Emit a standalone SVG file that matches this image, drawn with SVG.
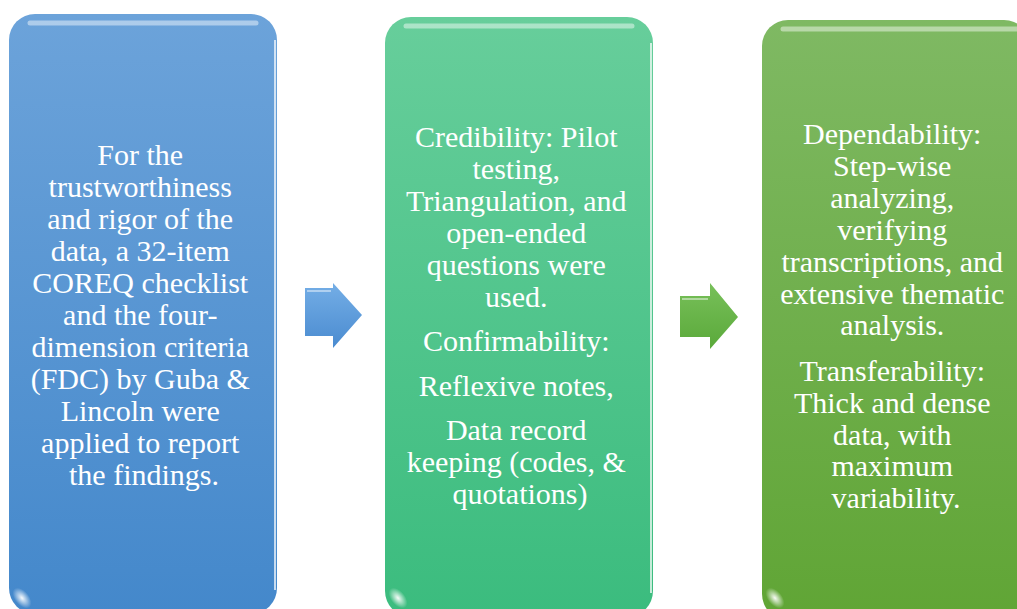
<svg xmlns="http://www.w3.org/2000/svg" width="1017" height="609" viewBox="0 0 1017 609">
  <style>
    .lbl { font-family: "Liberation Serif", "Times New Roman", serif; font-size: 30px; fill: #ffffff; text-anchor: middle; }
    .gloss { fill: none; stroke: #ffffff; stroke-opacity: 0.45; stroke-width: 5; stroke-linecap: round; }
    .edge { fill: none; stroke: #ffffff; stroke-opacity: 0.7; stroke-width: 2; }
  </style>
  <defs>
    <linearGradient id="gBlue" x1="0" y1="0" x2="0" y2="1">
      <stop offset="0" stop-color="#6ca3da"/>
      <stop offset="1" stop-color="#4488cb"/>
    </linearGradient>
    <linearGradient id="gTeal" x1="0" y1="0" x2="0" y2="1">
      <stop offset="0" stop-color="#67ce9b"/>
      <stop offset="1" stop-color="#3bbc7e"/>
    </linearGradient>
    <linearGradient id="gGreen" x1="0" y1="0" x2="0" y2="1">
      <stop offset="0" stop-color="#7fb963"/>
      <stop offset="1" stop-color="#60a535"/>
    </linearGradient>
    <linearGradient id="gArrowBlue" x1="0" y1="0" x2="0" y2="1">
      <stop offset="0" stop-color="#74aee6"/>
      <stop offset="1" stop-color="#4a8bd0"/>
    </linearGradient>
    <linearGradient id="gArrowGreen" x1="0" y1="0" x2="0" y2="1">
      <stop offset="0" stop-color="#78c05a"/>
      <stop offset="1" stop-color="#5aa93a"/>
    </linearGradient>
    <radialGradient id="gCorner" cx="0.5" cy="0.5" r="0.5">
      <stop offset="0" stop-color="#ffffff" stop-opacity="0.95"/>
      <stop offset="1" stop-color="#ffffff" stop-opacity="0"/>
    </radialGradient>
  </defs>

  <!-- Step 1: reporting framework -->
  <g id="box-coreq">
    <rect x="9" y="14" width="268" height="600" rx="26" fill="url(#gBlue)"/>
    <path class="gloss" d="M30 23 H256"/>
    <path class="edge" d="M275 40 V590"/>
    <ellipse cx="22" cy="598" rx="7" ry="12" transform="rotate(-40 22 598)" fill="url(#gCorner)"/>
    <text class="lbl">
      <tspan x="144" y="165">For the</tspan>
      <tspan x="144" y="197">trustworthiness</tspan>
      <tspan x="144" y="229">and rigor of the</tspan>
      <tspan x="144" y="261">data, a 32-item</tspan>
      <tspan x="144" y="293">COREQ checklist</tspan>
      <tspan x="144" y="325">and the four-</tspan>
      <tspan x="144" y="357">dimension criteria</tspan>
      <tspan x="144" y="389">(FDC) by Guba &amp;</tspan>
      <tspan x="144" y="421">Lincoln were</tspan>
      <tspan x="144" y="453">applied to report</tspan>
      <tspan x="144" y="485">the findings.</tspan>
    </text>
  </g>

  <!-- Step 2: credibility and confirmability -->
  <g id="box-credibility">
    <rect x="385" y="17" width="268" height="600" rx="26" fill="url(#gTeal)"/>
    <path class="gloss" d="M406 26 H632"/>
    <path class="edge" d="M651 43 V593"/>
    <ellipse cx="398" cy="598" rx="7" ry="12" transform="rotate(-40 398 598)" fill="url(#gCorner)"/>
    <text class="lbl">
      <tspan x="520" y="147">Credibility: Pilot</tspan>
      <tspan x="520" y="179">testing,</tspan>
      <tspan x="520" y="211">Triangulation, and</tspan>
      <tspan x="520" y="243">open-ended</tspan>
      <tspan x="520" y="275">questions were</tspan>
      <tspan x="520" y="307">used.</tspan>
      <tspan x="520" y="351">Confirmability:</tspan>
      <tspan x="520" y="396">Reflexive notes,</tspan>
      <tspan x="520" y="440">Data record</tspan>
      <tspan x="520" y="472">keeping (codes, &amp;</tspan>
      <tspan x="520" y="504">quotations)</tspan>
    </text>
  </g>

  <!-- Step 3: dependability and transferability -->
  <g id="box-dependability">
    <rect x="762" y="20" width="268" height="600" rx="26" fill="url(#gGreen)"/>
    <path class="gloss" d="M783 29 H1017"/>
    <ellipse cx="775" cy="598" rx="7" ry="12" transform="rotate(-40 775 598)" fill="url(#gCorner)"/>
    <text class="lbl">
      <tspan x="896" y="144">Dependability:</tspan>
      <tspan x="896" y="176">Step-wise</tspan>
      <tspan x="896" y="208">analyzing,</tspan>
      <tspan x="896" y="240">verifying</tspan>
      <tspan x="896" y="272">transcriptions, and</tspan>
      <tspan x="896" y="304">extensive thematic</tspan>
      <tspan x="896" y="335">analysis.</tspan>
      <tspan x="896" y="381">Transferability:</tspan>
      <tspan x="896" y="413">Thick and dense</tspan>
      <tspan x="896" y="445">data, with</tspan>
      <tspan x="896" y="476">maximum</tspan>
      <tspan x="896" y="508">variability.</tspan>
    </text>
  </g>

  <!-- Flow arrows between steps -->
  <g id="connectors">
    <polygon points="305,288 333,288 333,283 362,315 333,348 333,336 305,336" fill="url(#gArrowBlue)"/>
    <path d="M307 291 H331" stroke="#ffffff" stroke-opacity="0.45" stroke-width="2"/>
    <polygon points="680,296 710,296 710,283 738,317 710,349 710,337 680,337" fill="url(#gArrowGreen)"/>
    <path d="M682 299 H708" stroke="#ffffff" stroke-opacity="0.45" stroke-width="2"/>
  </g>
</svg>
